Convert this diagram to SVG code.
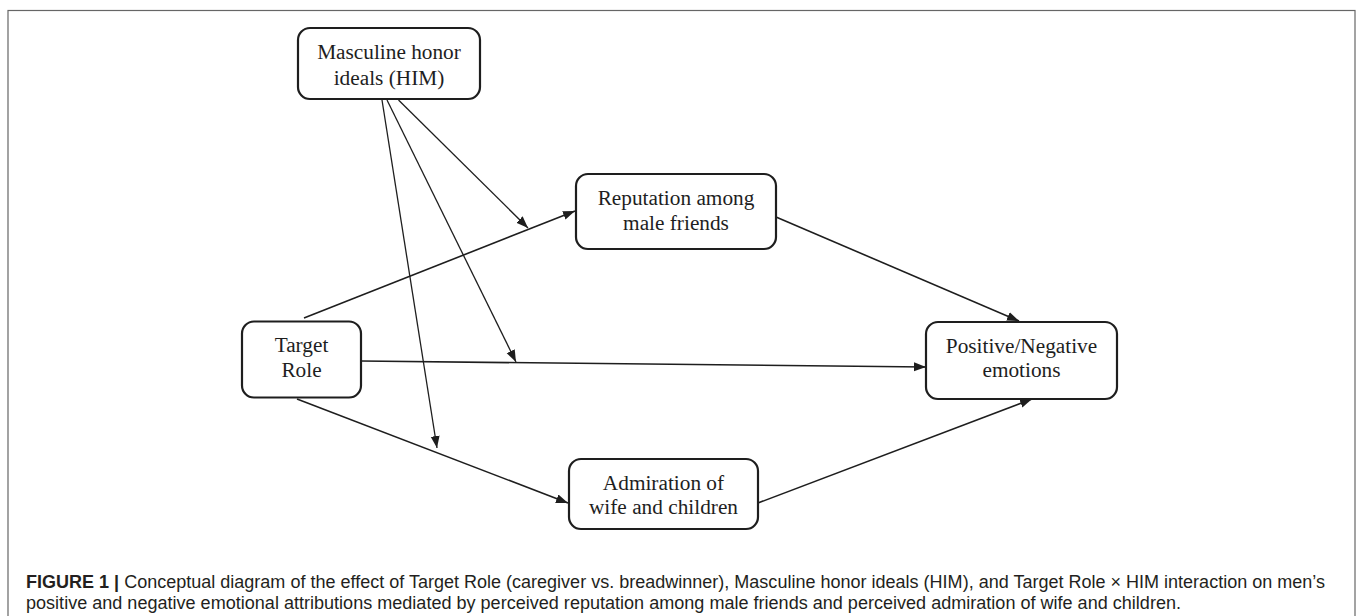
<svg xmlns="http://www.w3.org/2000/svg" width="1358" height="616" viewBox="0 0 1358 616">
<style>
.frame{fill:none;stroke:#666;stroke-width:1.2}
.node rect{fill:#fff;stroke:#1e1e1e;stroke-width:2.2}
.node text{font-family:"Liberation Serif","Times New Roman",serif;font-size:21.3px;fill:#1e1e1e;text-anchor:middle}
.conn line{stroke:#1e1e1e;fill:none;marker-end:url(#ah)}
.thick{stroke-width:1.6}
.thin{stroke-width:1.3}
.cap{font-family:"Liberation Sans",Arial,sans-serif;font-size:17.5px;fill:#231f20}
</style>
<defs>
<marker id="ah" markerUnits="userSpaceOnUse" markerWidth="13" markerHeight="10" refX="12" refY="4.5" orient="auto">
<path d="M0,0 L12,4.5 L0,9 z" fill="#1e1e1e"/>
</marker>
</defs>
<rect class="frame" x="8" y="10.5" width="1347" height="630"/>
<g id="connectors" class="conn">
<line class="thick" x1="304" y1="318" x2="575" y2="211"/>
<line class="thick" x1="361" y1="361" x2="926" y2="367"/>
<line class="thick" x1="297" y1="399" x2="568" y2="503"/>
<line class="thick" x1="776" y1="217" x2="1019" y2="321"/>
<line class="thick" x1="758" y1="503" x2="1032" y2="399"/>
<line class="thin" x1="382" y1="100" x2="437" y2="448"/>
<line class="thin" x1="387" y1="100" x2="516" y2="362"/>
<line class="thin" x1="398.5" y1="100" x2="528" y2="228"/>
</g>
<g id="node-him" class="node">
<rect x="298" y="28" width="182" height="71" rx="12"/>
<text x="389" y="59">Masculine honor</text>
<text x="389" y="85">ideals (HIM)</text>
</g>
<g id="node-target" class="node">
<rect x="242" y="321.5" width="119" height="76" rx="12"/>
<text x="301.5" y="352">Target</text>
<text x="301.5" y="377">Role</text>
</g>
<g id="node-reputation" class="node">
<rect x="576" y="174" width="200" height="75" rx="12"/>
<text x="676" y="205">Reputation among</text>
<text x="676" y="230">male friends</text>
</g>
<g id="node-emotions" class="node">
<rect x="926" y="322" width="191" height="77" rx="12"/>
<text x="1021.5" y="353">Positive/Negative</text>
<text x="1021.5" y="377">emotions</text>
</g>
<g id="node-admiration" class="node">
<rect x="569" y="459" width="189" height="70" rx="12"/>
<text x="663.5" y="490">Admiration of</text>
<text x="663.5" y="514">wife and children</text>
</g>
<g id="caption">
<text class="cap" x="26" y="588" textLength="1299" lengthAdjust="spacingAndGlyphs"><tspan font-weight="bold">FIGURE 1 |</tspan> Conceptual diagram of the effect of Target Role (caregiver vs. breadwinner), Masculine honor ideals (HIM), and Target Role × HIM interaction on men’s</text>
<text class="cap" x="26" y="609" textLength="1155" lengthAdjust="spacingAndGlyphs">positive and negative emotional attributions mediated by perceived reputation among male friends and perceived admiration of wife and children.</text>
</g>
</svg>
